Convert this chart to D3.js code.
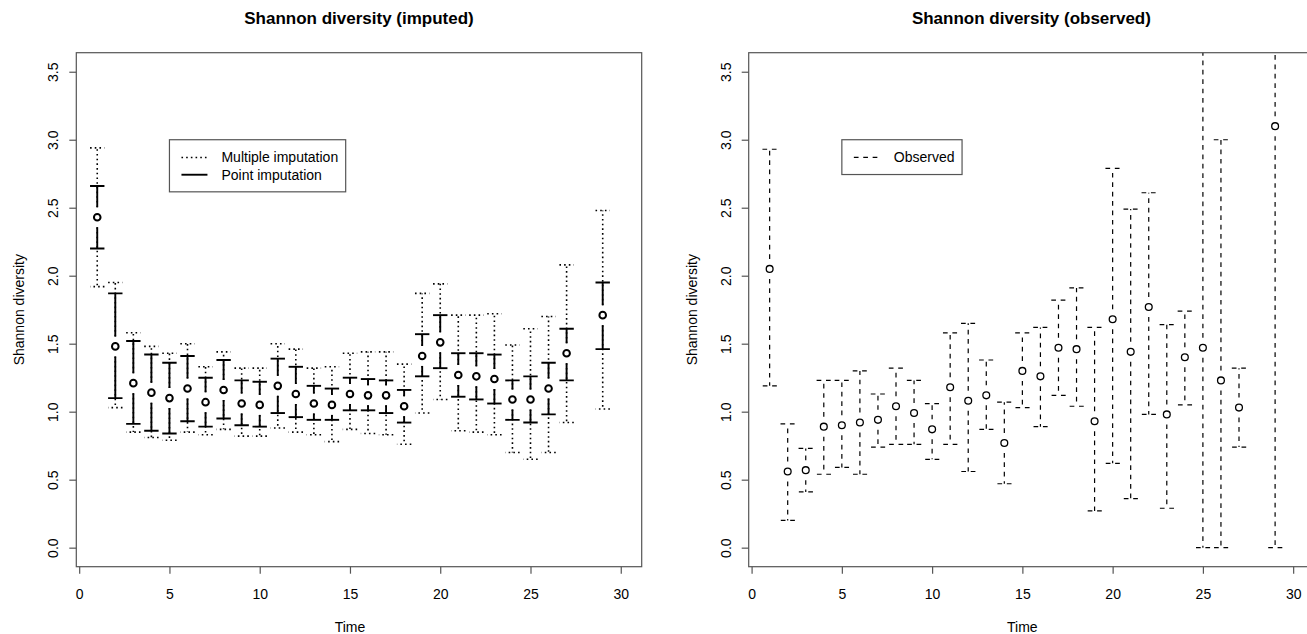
<!DOCTYPE html>
<html lang="en">
<head>
<meta charset="utf-8">
<title>Shannon diversity</title>
<script src="https://cdn.jsdelivr.net/npm/d3@7/dist/d3.min.js"></script>
<style>
  body { margin: 0; background: #fff; }
  text { font-family: "Liberation Sans", Arial, Helvetica, sans-serif; fill: #000; }
  .frame { fill: none; stroke: #555; stroke-width: 1.2; }
  .axis path.domain { display: none; }
  .axis line { stroke: #555; stroke-width: 1.2; }
  .axis text { font-size: 14px; }
  .title { font-size: 17px; font-weight: bold; }
  .label { font-size: 14px; }
  .mi { fill: none; stroke: #000; stroke-width: 1.6; stroke-dasharray: 1.6,3.1; }
  .pi { fill: none; stroke: #000; stroke-width: 1.9; }
  .obs { fill: none; stroke: #000; stroke-width: 1.2; stroke-dasharray: 4.7,4.7; }
  .ptBold { fill: #fff; stroke: #000; stroke-width: 2; }
  .pt { fill: #fff; stroke: #000; stroke-width: 1.3; }
  .legend rect { fill: #fff; stroke: #555; stroke-width: 1.2; }
  .legend text { font-size: 14px; }
</style>
</head>
<body>
<svg id="chart" width="1307" height="634"></svg>
<script>
// imputed panel
var timeImp = [1, 2, 3, 4, 5, 6, 7, 8, 9, 10, 11, 12, 13, 14, 15, 16, 17, 18, 19, 20, 21, 22, 23, 24, 25, 26, 27, 29];
var pointImp = [2.43, 1.48, 1.21, 1.14, 1.10, 1.17, 1.07, 1.16, 1.06, 1.05, 1.19, 1.13, 1.06, 1.05, 1.13, 1.12, 1.12, 1.04, 1.41, 1.51, 1.27, 1.26, 1.24, 1.09, 1.09, 1.17, 1.43, 1.71];
var piLower = [2.20, 1.10, 0.91, 0.86, 0.84, 0.93, 0.89, 0.95, 0.90, 0.89, 0.99, 0.96, 0.94, 0.94, 1.01, 1.01, 0.99, 0.92, 1.26, 1.32, 1.11, 1.09, 1.06, 0.94, 0.92, 0.98, 1.23, 1.46];
var piUpper = [2.66, 1.87, 1.52, 1.42, 1.36, 1.41, 1.25, 1.38, 1.23, 1.22, 1.39, 1.33, 1.19, 1.17, 1.25, 1.24, 1.23, 1.16, 1.57, 1.71, 1.43, 1.43, 1.42, 1.23, 1.26, 1.36, 1.61, 1.95];
var miLower = [1.92, 1.03, 0.85, 0.81, 0.79, 0.85, 0.83, 0.87, 0.82, 0.82, 0.88, 0.85, 0.83, 0.78, 0.87, 0.84, 0.83, 0.76, 0.99, 1.09, 0.86, 0.85, 0.83, 0.70, 0.65, 0.70, 0.92, 1.02];
var miUpper = [2.94, 1.95, 1.58, 1.48, 1.43, 1.50, 1.33, 1.44, 1.32, 1.32, 1.50, 1.46, 1.32, 1.33, 1.43, 1.44, 1.44, 1.35, 1.87, 1.94, 1.71, 1.71, 1.72, 1.49, 1.61, 1.70, 2.08, 2.48];

// observed panel
var timeObs = [1, 2, 3, 4, 5, 6, 7, 8, 9, 10, 11, 12, 13, 14, 15, 16, 17, 18, 19, 20, 21, 22, 23, 24, 25, 26, 27, 29];
var obsMean = [2.05, 0.56, 0.57, 0.89, 0.90, 0.92, 0.94, 1.04, 0.99, 0.87, 1.18, 1.08, 1.12, 0.77, 1.30, 1.26, 1.47, 1.46, 0.93, 1.68, 1.44, 1.77, 0.98, 1.40, 1.47, 1.23, 1.03, 3.10];
var obsLower = [1.19, 0.20, 0.41, 0.54, 0.59, 0.54, 0.74, 0.76, 0.76, 0.65, 0.76, 0.56, 0.87, 0.47, 1.03, 0.89, 1.12, 1.04, 0.27, 0.62, 0.36, 0.98, 0.29, 1.05, 0.00, 0.00, 0.74, 0.00];
var obsUpper = [2.93, 0.91, 0.73, 1.23, 1.23, 1.30, 1.13, 1.32, 1.23, 1.06, 1.58, 1.65, 1.38, 1.07, 1.58, 1.62, 1.82, 1.91, 1.62, 2.79, 2.49, 2.61, 1.64, 1.74, 4.00, 3.00, 1.32, 6.20];

var xTicks = [0, 5, 10, 15, 20, 25, 30];
var yTicks = [0, 0.5, 1, 1.5, 2, 2.5, 3, 3.5];
var xlim = [1, 30], ylim = [0, 3.5];

var svg = d3.select("#chart"),
  boxW = 565.4,
  boxTop = 52.7,
  boxBottom = 566.7,
  gap = 10,
  cap = 7.2;

// R style 4% range extension
function ext(lim) {
  var d = (lim[1] - lim[0]) * 0.04;
  return [lim[0] - d, lim[1] + d];
}

function drawPanel(id, left, title) {
  var x = d3.scaleLinear().domain(ext(xlim)).range([left, left + boxW]);
  var y = d3.scaleLinear().domain(ext(ylim)).range([boxBottom, boxTop]);
  var g = svg.append("g");

  g.append("clipPath").attr("id", "clip" + id)
    .append("rect")
    .attr("x", left).attr("y", boxTop)
    .attr("width", boxW).attr("height", boxBottom - boxTop);

  g.append("g")
    .attr("class", "axis")
    .attr("transform", "translate(0," + boxBottom + ")")
    .call(d3.axisBottom(x).tickValues(xTicks).tickSize(7).tickFormat(d3.format("d")))
    .selectAll("text")
    .attr("y", 32).attr("dy", 0);

  g.append("g")
    .attr("class", "axis")
    .attr("transform", "translate(" + left + ",0)")
    .call(d3.axisLeft(y).tickValues(yTicks).tickSize(7).tickFormat(d3.format(".1f")))
    .selectAll("text")
    .attr("transform", "rotate(-90)")
    .attr("x", 0).attr("y", -18).attr("dy", 0)
    .style("text-anchor", "middle");

  g.append("text")
    .attr("class", "title")
    .attr("x", left + boxW / 2).attr("y", 23.5)
    .style("text-anchor", "middle")
    .text(title);

  g.append("text")
    .attr("class", "label")
    .attr("x", x(15)).attr("y", 632)
    .style("text-anchor", "middle")
    .text("Time");

  g.append("text")
    .attr("class", "label")
    .attr("transform", "translate(" + (left - 52) + "," + ((boxTop + boxBottom) / 2) + ") rotate(-90)")
    .style("text-anchor", "middle")
    .text("Shannon diversity");

  var plot = g.append("g").attr("clip-path", "url(#clip" + id + ")");
  return {x: x, y: y, g: g, plot: plot, left: left};
}

// vertical interval with a gap around the point, plus caps
function interval(layer, cls, times, mid, lo, hi, x, y) {
  var rows = times.map(function(t, i) {
    return {t: t, m: mid[i], lo: lo[i], hi: hi[i]};
  });
  var grp = layer.append("g");
  rows.forEach(function(d) {
    var px = x(d.t), pm = y(d.m), ph = y(d.hi), pl = y(d.lo);
    if (ph < pm - gap) {
      grp.append("path").attr("class", cls).attr("d", "M" + px + "," + (pm - gap) + "L" + px + "," + ph);
    }
    if (pl > pm + gap) {
      grp.append("path").attr("class", cls).attr("d", "M" + px + "," + (pm + gap) + "L" + px + "," + pl);
    }
    grp.append("path").attr("class", cls).attr("d", "M" + (px - cap) + "," + ph + "L" + (px + cap) + "," + ph);
    grp.append("path").attr("class", cls).attr("d", "M" + (px + cap) + "," + pl + "L" + (px - cap) + "," + pl);
  });
}

function points(layer, cls, times, vals, x, y, r) {
  layer.selectAll(".p")
    .data(times.map(function(t, i) { return {t: t, v: vals[i]}; }))
    .enter().append("circle")
    .attr("class", cls)
    .attr("cx", function(d) { return x(d.t); })
    .attr("cy", function(d) { return y(d.v); })
    .attr("r", r);
}

function legend(p, items) {
  var lg = p.g.append("g")
    .attr("class", "legend")
    .attr("transform", "translate(" + p.x(5) + "," + p.y(3) + ")");
  var box = lg.append("rect");
  var maxW = 0;
  items.forEach(function(it, i) {
    var cy = 17.7 + i * 17.3;
    lg.append("path").attr("class", it.cls).attr("d", "M12," + cy + "L38," + cy);
    var t = lg.append("text").attr("x", 52).attr("y", cy).attr("dy", "0.35em").text(it.label);
    maxW = Math.max(maxW, t.node().getComputedTextLength());
  });
  box.attr("width", 52 + maxW + 7.5).attr("height", items.length * 17.3 + 17.5);
}

var p1 = drawPanel(1, 76.3, "Shannon diversity (imputed)");
interval(p1.plot, "mi", timeImp, pointImp, miLower, miUpper, p1.x, p1.y);
interval(p1.plot, "pi", timeImp, pointImp, piLower, piUpper, p1.x, p1.y);
points(p1.plot, "ptBold", timeImp, pointImp, p1.x, p1.y, 3.3);
p1.g.append("rect").attr("class", "frame")
  .attr("x", p1.left).attr("y", boxTop).attr("width", boxW).attr("height", boxBottom - boxTop);
legend(p1, [{cls: "mi", label: "Multiple imputation"}, {cls: "pi", label: "Point imputation"}]);

var p2 = drawPanel(2, 748.7, "Shannon diversity (observed)");
interval(p2.plot, "obs", timeObs, obsMean, obsLower, obsUpper, p2.x, p2.y);
points(p2.plot, "pt", timeObs, obsMean, p2.x, p2.y, 3.4);
p2.g.append("rect").attr("class", "frame")
  .attr("x", p2.left).attr("y", boxTop).attr("width", boxW).attr("height", boxBottom - boxTop);
legend(p2, [{cls: "obs", label: "Observed"}]);
</script>
</body>
</html>
